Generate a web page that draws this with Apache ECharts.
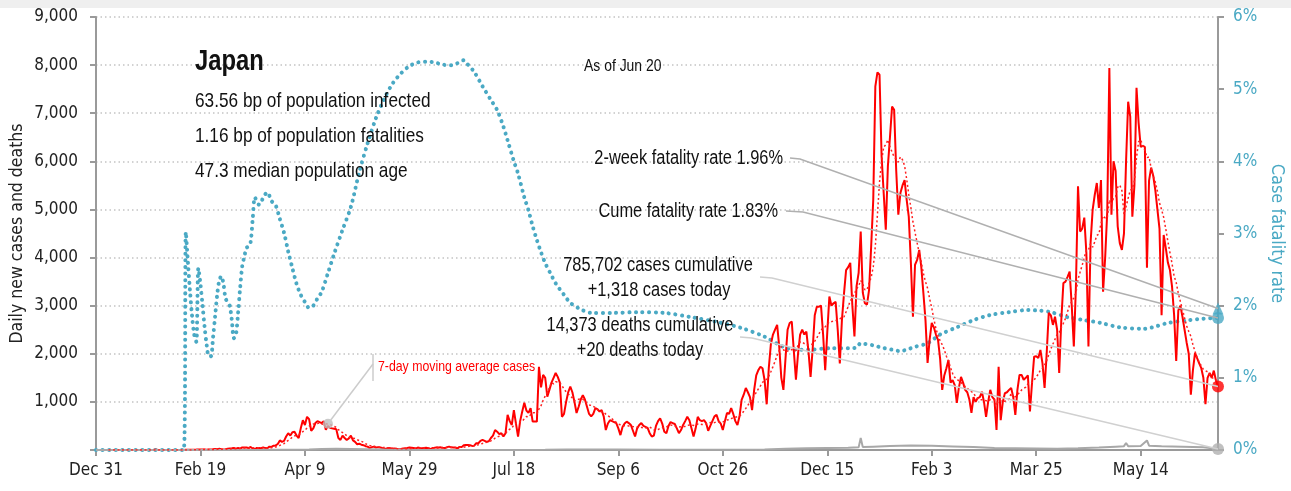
<!DOCTYPE html>
<html>
<head>
<meta charset="utf-8">
<title>Japan daily cases</title>
<script src="https://cdn.jsdelivr.net/npm/echarts@6/dist/echarts.min.js"></script>
<style>
html, body { margin: 0; padding: 0; background: #fff; }
#chart { width: 1291px; height: 491px; }
</style>
</head>
<body>
<div id="chart"></div>
<script>
// x ticks every 50 days from Dec 31 2019
var tickLabels = ['Dec 31', 'Feb 19', 'Apr 9', 'May 29', 'Jul 18', 'Sep 6', 'Oct 26',
  'Dec 15', 'Feb 3', 'Mar 25', 'May 14'];

// daily new cases, one row per week (Tue..Mon), day 0 = Dec 31 2019
var cases = [
  0,0,0,0,0,0,0,
  0,0,0,0,0,0,0,
  0,0,1,0,0,0,0,
  0,0,1,0,1,1,0,
  3,4,2,1,1,0,0,
  0,0,0,0,0,2,0,
  1,3,4,3,6,5,8,
  12,10,9,13,4,9,12,
  14,22,18,25,14,12,18,
  28,33,36,40,26,40,28,
  54,50,52,41,62,32,15,
  44,39,37,55,40,35,70,
  65,90,95,125,200,170,190,
  280,350,300,370,380,300,250,
  450,620,520,690,640,400,450,
  560,600,580,560,600,420,500,
  460,450,440,430,250,210,300,
  250,210,240,300,200,170,120,
  130,110,100,80,70,40,60,
  70,50,60,50,40,25,30,
  40,35,25,30,20,15,20,
  30,35,40,50,45,40,30,
  50,40,35,40,45,35,20,
  40,45,55,50,55,45,40,
  60,70,55,50,50,35,65,
  60,100,105,105,100,85,90,
  140,140,190,210,190,170,180,
  250,300,415,380,330,350,280,
  350,730,600,520,830,550,280,
  600,800,980,820,770,870,590,
  590,590,1730,1300,1560,1500,1110,
  1250,1400,1500,1600,1520,1400,690,
  750,1000,1200,1320,1200,1000,770,
  900,1050,1140,1050,900,750,700,
  750,870,850,800,830,700,415,
  550,620,600,580,560,450,310,
  480,550,590,560,520,400,280,
  450,520,560,500,480,460,350,
  280,300,500,600,660,550,380,
  350,500,580,560,540,450,350,
  415,520,600,690,620,450,280,
  450,690,620,600,620,560,400,
  500,600,700,730,600,550,415,
  600,770,750,870,750,600,520,
  700,1040,1150,1290,1200,1100,830,
  1250,1550,1660,1730,1700,1450,950,
  1700,2200,2400,2500,2600,2150,1500,
  1250,1900,2500,2640,2670,2050,1460,
  2000,2400,2500,2400,2460,2050,1520,
  2100,2800,2980,2980,3000,2400,1660,
  2450,3190,3000,3050,3080,2500,1800,
  2700,3250,3740,3800,3890,3000,2360,
  3400,3680,4540,3270,3050,3020,3330,
  4230,5200,7560,7850,7800,6100,5340,
  4580,5900,6500,7140,7070,5800,4890,
  5340,5500,5610,5200,4850,3900,2770,
  3850,3950,4160,3800,3260,2700,1810,
  2300,2640,2550,2400,2290,1900,1250,
  1550,1700,1870,1400,1450,1350,980,
  1300,1520,1400,1250,1200,1050,770,
  1100,1000,1080,1100,1210,1000,690,
  1000,1250,1100,1050,415,1730,620,
  1000,1180,1200,1250,1290,1100,730,
  1250,1560,1560,1460,1500,1550,800,
  1400,1940,1950,1910,2080,1800,1290,
  2000,2850,2800,2600,2770,2500,1600,
  2700,3470,3500,3600,3710,3000,2150,
  3400,5480,4540,4600,4830,4100,2150,
  4300,4990,5300,5550,5030,5610,3290,
  4000,4960,7940,4890,6000,5800,4650,
  4300,4160,4500,6000,7240,6930,4850,
  5500,7530,6800,6300,6320,6300,3790,
  5600,5870,5700,5400,5000,4600,2800,
  4470,4200,3900,3740,3400,2800,1850,
  2900,3000,2770,2500,2230,2000,1150,
  1660,2020,1910,1800,1700,1500,950,
  1500,1600,1500,1650,1450,1318
];

// daily deaths, read at these days
var deathDays = [0,44,60,80,95,102,108,115,122,130,138,150,165,185,205,215,225,235,250,270,290,
  310,320,330,340,350,360,365,366,367,372,380,390,400,410,420,430,440,450,460,470,480,488,492,
  493,494,500,503,504,510,520,530,537];
var deathVals = [0,1,1,3,6,12,20,28,22,15,8,3,1,1,1,4,10,12,9,6,5,
  6,12,25,35,40,45,55,250,60,70,85,95,90,75,60,40,35,30,25,35,50,70,80,
  145,80,85,200,90,80,70,55,20];

// cumulative case fatality rate (%), read at these days
var cfrDays = [0,42,43,44,45,46,47,48,49,50,51,52,53,54,55,56,57,58,59,60,61,62,63,64,65,66,67,68,69,
  70,71,72,73,74,75,76,77,78,79,80,82,84,86,88,90,92,94,96,98,100,102,104,106,108,111,114,118,
  122,126,130,134,138,142,146,150,154,158,162,166,170,173,176,178,181,185,189,192,195,197,200,
  202,205,207,209,211,213,215,218,220,224,227,232,237,248,259,272,285,298,309,320,329,336,341,
  352,361,364,366,368,372,376,381,385,388,392,398,404,412,420,428,437,446,452,457,465,473,481,
  490,502,508,513,523,530,537];
var cfrVals = [0,0,3.02,2.6,2.2,1.85,1.6,1.5,2.52,2.3,2.0,1.7,1.45,1.3,1.3,1.55,1.85,2.15,2.35,2.41,
  2.3,2.1,2.05,2.0,1.8,1.55,1.6,1.9,2.25,2.55,2.68,2.8,2.82,2.88,3.2,3.5,3.45,3.4,3.42,3.5,3.57,
  3.45,3.39,3.2,3.01,2.75,2.52,2.3,2.15,2.05,1.97,2.0,2.1,2.19,2.45,2.72,3.05,3.37,3.85,4.25,4.6,
  4.87,5.08,5.22,5.32,5.37,5.38,5.37,5.34,5.33,5.36,5.4,5.34,5.24,5.04,4.85,4.71,4.48,4.29,4.0,
  3.83,3.5,3.32,3.1,2.91,2.74,2.59,2.42,2.31,2.15,2.04,1.95,1.9,1.9,1.91,1.9,1.84,1.77,1.69,1.57,
  1.43,1.39,1.39,1.41,1.41,1.42,1.48,1.47,1.45,1.42,1.39,1.37,1.39,1.43,1.48,1.6,1.7,1.8,1.87,
  1.91,1.94,1.93,1.91,1.84,1.8,1.76,1.7,1.68,1.72,1.76,1.8,1.82,1.83];

var twoWeekRate = 1.96;
var totalCases = '785,702', todayCases = '1,318';
var totalDeaths = '14,373', todayDeaths = '20';
var maLabelDay = 111;

var TEAL = '#4aa9c4';
var AXFONT = "'DejaVu Sans Condensed', sans-serif";
var TXFONT = "'Liberation Sans', Arial, sans-serif";
var NARROW = 0.82;

var movingAvg = cases.map(function (v, i) {
  if (i < 6) return null;
  var s = 0;
  for (var k = i - 6; k <= i; k++) s += cases[k];
  return s / 7;
});

var last = cases.length - 1;
var chart = echarts.init(document.getElementById('chart'));

chart.setOption({
  animation: false,
  grid: { left: 96, right: 73, top: 17, bottom: 41, outerBoundsMode: 'none', containLabel: false },
  xAxis: {
    type: 'value', min: 0, max: last, interval: 50,
    axisLine: { lineStyle: { color: '#9a9a9a', width: 2 } },
    axisTick: { length: 6, lineStyle: { color: '#9a9a9a', width: 2 } },
    axisLabel: {
      fontFamily: AXFONT, fontSize: 17, color: '#222', margin: 12, showMaxLabel: false,
      formatter: function (v) { return tickLabels[v / 50] || ''; }
    },
    splitLine: { show: false }
  },
  yAxis: [{
    type: 'value', min: 0, max: 9000, interval: 1000,
    name: 'Daily new cases and deaths', nameLocation: 'middle', nameGap: 70, nameRotate: 90,
    nameMoveOverlap: false,
    nameTextStyle: { fontFamily: AXFONT, fontSize: 17.5, color: '#222' },
    axisLine: { show: true, lineStyle: { color: '#9a9a9a', width: 2 } },
    axisTick: { show: true, length: 6, lineStyle: { color: '#9a9a9a', width: 2 } },
    axisLabel: {
      fontFamily: AXFONT, fontSize: 17, color: '#222', margin: 18,
      formatter: function (v) { return v === 0 ? '' : v.toLocaleString('en-US'); }
    },
    splitLine: { lineStyle: { color: '#c4c4c4', width: 1.5, type: [1.5, 3] } }
  }, {
    type: 'value', min: 0, max: 6, interval: 1, position: 'right',
    name: 'Case fatality rate', nameLocation: 'middle', nameGap: 50, nameRotate: -90,
    nameMoveOverlap: false,
    nameTextStyle: { fontFamily: AXFONT, fontSize: 18, color: TEAL },
    axisLine: { show: true, lineStyle: { color: '#9a9a9a', width: 2 } },
    axisTick: { show: true, length: 6, lineStyle: { color: '#9a9a9a', width: 2 } },
    axisLabel: { fontFamily: AXFONT, fontSize: 17, color: TEAL, margin: 15, formatter: '{value}%' },
    splitLine: { show: false }
  }],
  series: [{
    name: 'cfr', type: 'line', yAxisIndex: 1, showSymbol: false, smooth: 0.3,
    data: cfrDays.map(function (d, i) { return [d, cfrVals[i]]; }),
    lineStyle: { color: TEAL, width: 4, type: [0.1, 6.5], cap: 'round' }, z: 2
  }, {
    name: 'cases', type: 'line', showSymbol: false,
    data: cases.map(function (v, i) { return [i, v]; }),
    lineStyle: { color: '#ff0000', width: 2 }, z: 3
  }, {
    name: 'ma', type: 'line', showSymbol: false, connectNulls: false,
    data: movingAvg.map(function (v, i) { return [i, v]; }),
    lineStyle: { color: '#ff2020', width: 1.5, type: [2, 2.5] }, z: 4
  }, {
    name: 'deaths', type: 'line', showSymbol: false,
    data: deathDays.map(function (d, i) { return [d, deathVals[i]]; }),
    lineStyle: { color: '#a8a8a8', width: 2 }, z: 3
  }, {
    name: 'markers', type: 'scatter', z: 6, silent: true,
    data: [
      { value: [last, cases[last]], itemStyle: { color: '#ff0000' }, symbolSize: 12 },
      { value: [last, deathVals[deathVals.length - 1]], itemStyle: { color: '#b0b0b0' }, symbolSize: 12 },
      { value: [maLabelDay, movingAvg[maLabelDay]], itemStyle: { color: '#bdbdbd' }, symbolSize: 10 }
    ]
  }, {
    name: 'cfrMarkers', type: 'scatter', yAxisIndex: 1, z: 6, silent: true,
    data: [
      { value: [last, cfrVals[cfrVals.length - 1]], symbol: 'circle', symbolSize: 12 },
      { value: [last, twoWeekRate], symbol: 'triangle', symbolSize: [11, 12] }
    ],
    itemStyle: { color: TEAL }
  }]
});

function px(y, axis, v) {
  return chart.convertToPixel({ xAxisIndex: 0, yAxisIndex: axis }, [y, v]);
}
var pTwo = px(last, 1, twoWeekRate);
var pCume = px(last, 1, cfrVals[cfrVals.length - 1]);
var pCases = px(last, 0, cases[last]);
var pDeaths = px(last, 0, deathVals[deathVals.length - 1]);
var pMa = px(maLabelDay, 0, movingAvg[maLabelDay]);

// narrow text: Liberation Sans squeezed horizontally
function txt(id, s, x, y, size, opts) {
  opts = opts || {};
  return {
    type: 'text', id: id, x: x, y: y, z: 110, silent: true, scaleX: NARROW,
    style: {
      text: s, fontFamily: TXFONT, fontSize: size, fontWeight: opts.bold ? 'bold' : 'normal',
      fill: opts.color || '#111', align: opts.align || 'left', verticalAlign: 'middle'
    }
  };
}
function leader(id, pts, color) {
  return {
    type: 'polyline', id: id, z: 100, silent: true,
    shape: { points: pts },
    style: { stroke: color, lineWidth: 1.5, fill: null }
  };
}

chart.setOption({
  graphic: [
    { type: 'rect', id: 'topband', z: 0, shape: { x: 0, y: 0, width: 1291, height: 8 }, style: { fill: '#efefef' } },
    txt('title', 'Japan', 195, 62, 29, { bold: true }),
    txt('l1', '63.56 bp of population infected', 195, 101, 21),
    txt('l2', '1.16 bp of population fatalities', 195, 136, 21),
    txt('l3', '47.3 median population age', 195, 171, 21),
    txt('asof', 'As of Jun 20', 584, 66, 17),
    txt('two', '2-week fatality rate ' + twoWeekRate.toFixed(2) + '%', 783, 158, 20, { align: 'right' }),
    txt('cume', 'Cume fatality rate ' + cfrVals[cfrVals.length - 1].toFixed(2) + '%', 778, 211, 20, { align: 'right' }),
    txt('cc', totalCases + ' cases cumulative', 658, 265, 20, { align: 'center' }),
    txt('ct', '+' + todayCases + ' cases today', 659, 290, 20, { align: 'center' }),
    txt('dc', totalDeaths + ' deaths cumulative', 640, 325, 20, { align: 'center' }),
    txt('dt', '+' + todayDeaths + ' deaths today', 640, 350, 20, { align: 'center' }),
    txt('ma', '7-day moving average cases', 378, 367, 15, { color: '#ff0000' }),
    leader('ldTwo', [[790, 158], [800, 159], pTwo], '#b0b0b0'),
    leader('ldCume', [[786, 211], [803, 212], pCume], '#b0b0b0'),
    leader('ldCases', [[760, 277], [772, 278], pCases], '#d0d0d0'),
    leader('ldDeaths', [[740, 337], [752, 338], pDeaths], '#d0d0d0'),
    leader('ldMaBar', [[373, 354], [373, 381]], '#cccccc'),
    leader('ldMa', [[373, 364], pMa], '#cccccc')
  ]
});
</script>
</body>
</html>
